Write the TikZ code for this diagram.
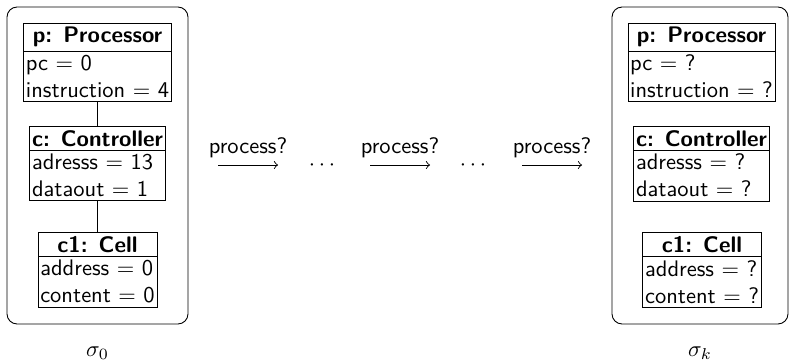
\documentclass[tikz,border=0pt]{standalone}
\usetikzlibrary{shapes.multipart,positioning}
\def\px{0.4444pt}
\tikzset{
  obj/.style={draw, rectangle split, rectangle split parts=2,
    rectangle split part align={center,left}, align=left,
    inner xsep=1pt, inner ysep=1.5pt, anchor=north},
  snapshot/.style={draw, rounded corners=4.5pt, minimum height={317*\px}},
  trans/.style={->, shorten >=0pt},
  lbl/.style={above, inner sep=3pt},
}

\begin{document}
\begin{tikzpicture}[x=\px, y=-\px, font=\sffamily]
\useasboundingbox (0,0) rectangle (790,360);

% ================= sigma_0 =================
\node[snapshot, minimum width={181*\px}] (s0) at (97.5,165.5) {};
\node[obj] (p0) at (97.5,23) {\textbf{p: Processor}
  \nodepart{two} pc $=$ 0\\ instruction $=$ 4};
\node[obj] (c0) at (97.5,126) {\textbf{c: Controller}
  \nodepart{two} adresss $=$ 13\\ dataout $=$ 1};
\node[obj] (m0) at (97.5,232) {\textbf{c1: Cell}
  \nodepart{two} address $=$ 0\\ content $=$ 0};
\draw (p0.south) -- (c0.north);
\draw (c0.south) -- (m0.north);
\node (l0) at (97.5,353) {$\sigma_0$};

% ================= steps =================
\coordinate (a1) at (218,165); \coordinate (b1) at (278,165);
\node (d1) at (322,165) {$\cdots$};
\coordinate (a2) at (370,165); \coordinate (b2) at (430,165);
\node (d2) at (473,165) {$\cdots$};
\coordinate (a3) at (522,165); \coordinate (b3) at (582,165);
\foreach \i in {1,2,3}
  \draw[trans] (a\i) -- node[lbl] {process?} (b\i);

% ================= sigma_k =================
\node[snapshot, minimum width={176*\px}] (sk) at (700,165.5) {};
\node[obj] (pk) at (701.5,23) {\textbf{p: Processor}
  \nodepart{two} pc $=$ ?\\ instruction $=$ ?};
\node[obj] (ck) at (701.5,126) {\textbf{c: Controller}
  \nodepart{two} adresss $=$ ?\\ dataout $=$ ?};
\node[obj] (mk) at (702,232) {\textbf{c1: Cell}
  \nodepart{two} address $=$ ?\\ content $=$ ?};
\node (lk) at (700,353) {$\sigma_k$};

\end{tikzpicture}
\end{document}
